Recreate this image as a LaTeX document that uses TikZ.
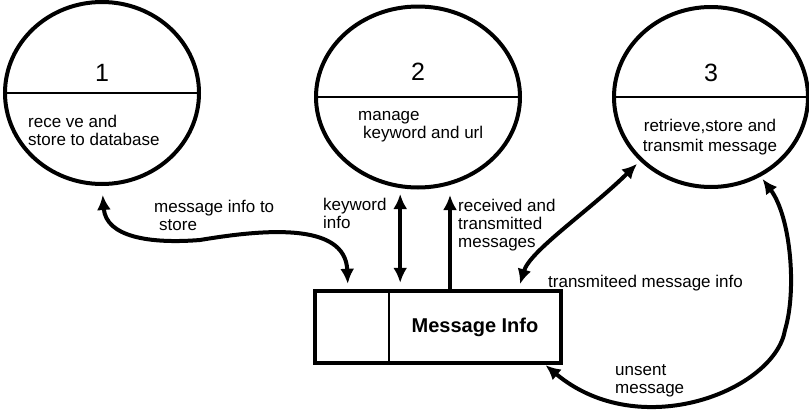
\documentclass[tikz,border=0pt]{standalone}
\usepackage{fontspec}
\setmainfont{Liberation Sans}
\usetikzlibrary{arrows.meta, shapes.geometric}

\begin{document}
\begin{tikzpicture}[x=1pt, y=-1pt,
  >={Latex[length=15pt, width=14pt]},
  proc/.style={ellipse, draw, line width=4pt, inner sep=0pt},
  num/.style={font=\fontsize{25}{25}\selectfont, inner sep=0pt},
  txt/.style={font=\fontsize{17}{18}\selectfont, inner sep=0pt, anchor=west, align=left},
  flow/.style={line width=4pt}]
\useasboundingbox (0,0) rectangle (809,413);
% processes
\node[proc, minimum width=194pt, minimum height=182pt] (c1) at (102,93) {};
\node[proc, minimum width=204pt, minimum height=181pt] (c2) at (418,97) {};
\node[proc, minimum width=194pt, minimum height=180pt] (c3) at (711,97) {};
\draw[line width=2.5pt] (c1.west) -- (c1.east);
\draw[line width=2.5pt] (c2.west) -- (c2.east);
\draw[line width=2.5pt] (c3.west) -- (c3.east);
\node[num] (n1) at (102,73) {1};
\node[txt] (t1) at (28,130.5) {rece ve and\\store to database};
\node[num] (n2) at (418,72) {2};
\node[txt] (t2) at (358,126.5) {manage\\\hspace*{5pt}keyword and url};
\node[num] (n3) at (711,73) {3};
\node[txt, anchor=center, align=center] (t3) at (710,137) {retrieve,store and\\[2pt]transmit message};
% data store
\node[minimum width=74pt, minimum height=72pt, inner sep=0pt] (sid) at (352,327) {};
\node[minimum width=172pt, minimum height=72pt, inner sep=0pt,
  font=\bfseries\fontsize{20}{20}\selectfont] (sname) at (475,327) {Message Info};
\draw[line width=4.5pt] (sid.north west) rectangle (sname.south east);
\draw[line width=2.5pt] (sid.north east) -- (sid.south east);
% flows
\coordinate (bend) at (200,240);
\coordinate (turn) at (785,330);
\draw[flow, <->, shorten <=9pt, shorten >=7pt] (c1.south) .. controls +(4,51) and +(-50,4) .. (bend)
  .. controls +(60,-10) and +(-2.5,-70) .. ([xshift=-4pt]sid.north);
\draw[flow, <->, shorten <=8pt, shorten >=4.5pt] ([xshift=11pt]sid.north east) -- ([xshift=11pt]sid.north east |- c2.south);
\draw[flow, ->, shorten >=5.5pt] ([xshift=-25pt]sname.north) -- ([xshift=-25pt]sname.north |- c2.south);
\draw[flow, <->, shorten <=4pt, shorten >=7pt] (c3.-138) .. controls +(-51,50) and +(12,-40) .. ([xshift=43pt]sname.north);
\draw[flow, <->, shorten <=3pt, shorten >=3pt] (c3.-58) .. controls +(30,40) and +(12,-40) .. (turn)
  .. controls +(-10,60) and +(97,81) .. ([xshift=-18pt]sname.south east);
% labels
\node[txt] (l1) at (154,215.5) {message info to\\\hspace*{5pt}store};
\node[txt] (l2) at (323,213.5) {keyword\\info};
\node[txt] (l3) at (458,225) {received and\\transmitted\\messages};
\node[txt] (l4) at (548,283) {transmiteed message info};
\node[txt] (l5) at (615,380.5) {unsent\\message};
\end{tikzpicture}
\end{document}
